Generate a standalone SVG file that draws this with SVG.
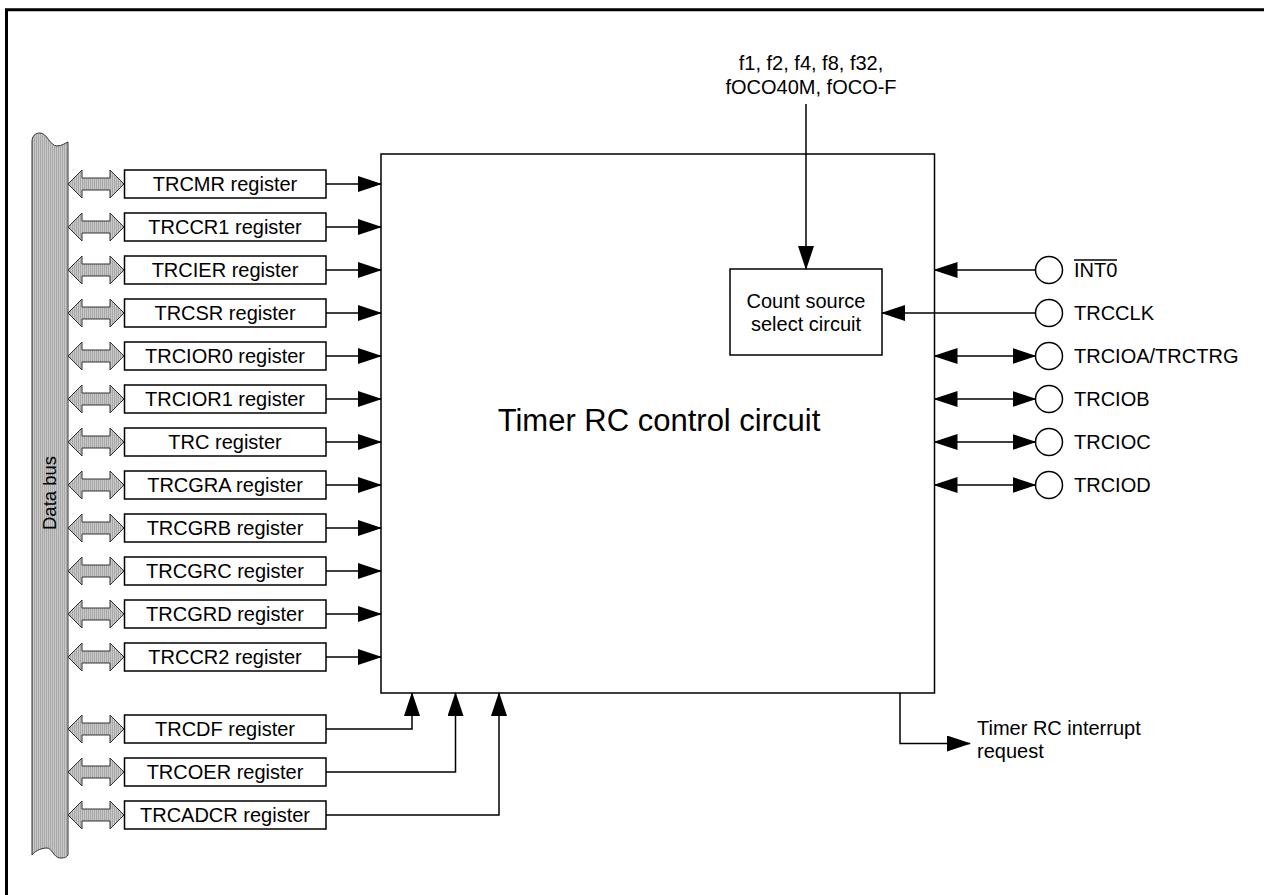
<svg xmlns="http://www.w3.org/2000/svg" width="1264" height="895" viewBox="0 0 1264 895">
<style>
text{font-family:"Liberation Sans",Arial,sans-serif;font-size:20px;fill:#000}
.reg{fill:#fff;stroke:#000;stroke-width:1.5}
.bus{fill:url(#hatch);stroke:#333;stroke-width:1}
.ln{fill:none;stroke:#000;stroke-width:1.5}
.arr{marker-end:url(#ah)}
.dbl{marker-start:url(#ah);marker-end:url(#ah)}
.c{text-anchor:middle}
</style>
<defs>
<pattern id="hatch" width="2" height="4" patternUnits="userSpaceOnUse"><rect width="2" height="4" fill="#c8c8c8"/><rect width="1" height="4" fill="#a8a8a8"/></pattern>
<marker id="ah" markerUnits="userSpaceOnUse" markerWidth="24" markerHeight="16" refX="23" refY="8" orient="auto-start-reverse"><path d="M0,0 L24,8 L0,16 Z" fill="#000"/></marker>
<path id="da" d="M68,0 L82,-14 L82,-6 L110,-6 L110,-14 L124,0 L110,14 L110,6 L82,6 L82,14 Z"/>
</defs>
<rect width="1264" height="895" fill="#fff"/>
<path d="M6.5,895 L6.5,9.8 L1264,9.8" fill="none" stroke="#000" stroke-width="3"/>

<g id="databus">
<path class="bus" d="M32,142 C32,136 35,133 40,133 C47,133 50,146 57,146 C62,146 65,143 68,142 L68,855 C66,858 63,858 60,858 C54,858 52,848 47,848 C40,848 34,852 32,855 Z"/>
<text transform="translate(56,493) rotate(-90)" class="c" style="font-size:18.5px">Data bus</text>
</g>

<g id="busarrows">
<use href="#da" class="bus" y="184"/>
<use href="#da" class="bus" y="227"/>
<use href="#da" class="bus" y="270"/>
<use href="#da" class="bus" y="313"/>
<use href="#da" class="bus" y="356"/>
<use href="#da" class="bus" y="399"/>
<use href="#da" class="bus" y="442"/>
<use href="#da" class="bus" y="485"/>
<use href="#da" class="bus" y="528"/>
<use href="#da" class="bus" y="571"/>
<use href="#da" class="bus" y="614"/>
<use href="#da" class="bus" y="657"/>
<use href="#da" class="bus" y="729"/>
<use href="#da" class="bus" y="772"/>
<use href="#da" class="bus" y="815"/>
</g>

<g id="reg-trcmr"><rect class="reg" x="124.5" y="170" width="201.5" height="28"/><text class="c" x="225" y="191">TRCMR register</text></g>
<g id="reg-trccr1"><rect class="reg" x="124.5" y="213" width="201.5" height="28"/><text class="c" x="225" y="234">TRCCR1 register</text></g>
<g id="reg-trcier"><rect class="reg" x="124.5" y="256" width="201.5" height="28"/><text class="c" x="225" y="277">TRCIER register</text></g>
<g id="reg-trcsr"><rect class="reg" x="124.5" y="299" width="201.5" height="28"/><text class="c" x="225" y="320">TRCSR register</text></g>
<g id="reg-trcior0"><rect class="reg" x="124.5" y="342" width="201.5" height="28"/><text class="c" x="225" y="363">TRCIOR0 register</text></g>
<g id="reg-trcior1"><rect class="reg" x="124.5" y="385" width="201.5" height="28"/><text class="c" x="225" y="406">TRCIOR1 register</text></g>
<g id="reg-trc"><rect class="reg" x="124.5" y="428" width="201.5" height="28"/><text class="c" x="225" y="449">TRC register</text></g>
<g id="reg-trcgra"><rect class="reg" x="124.5" y="471" width="201.5" height="28"/><text class="c" x="225" y="492">TRCGRA register</text></g>
<g id="reg-trcgrb"><rect class="reg" x="124.5" y="514" width="201.5" height="28"/><text class="c" x="225" y="535">TRCGRB register</text></g>
<g id="reg-trcgrc"><rect class="reg" x="124.5" y="557" width="201.5" height="28"/><text class="c" x="225" y="578">TRCGRC register</text></g>
<g id="reg-trcgrd"><rect class="reg" x="124.5" y="600" width="201.5" height="28"/><text class="c" x="225" y="621">TRCGRD register</text></g>
<g id="reg-trccr2"><rect class="reg" x="124.5" y="643" width="201.5" height="28"/><text class="c" x="225" y="664">TRCCR2 register</text></g>
<g id="reg-trcdf"><rect class="reg" x="124.5" y="715" width="201.5" height="28"/><text class="c" x="225" y="736">TRCDF register</text></g>
<g id="reg-trcoer"><rect class="reg" x="124.5" y="758" width="201.5" height="28"/><text class="c" x="225" y="779">TRCOER register</text></g>
<g id="reg-trcadcr"><rect class="reg" x="124.5" y="801" width="201.5" height="28"/><text class="c" x="225" y="822">TRCADCR register</text></g>

<g id="main"><rect class="reg" x="381" y="154" width="553.5" height="539"/><text class="c" x="659" y="431" style="font-size:31px">Timer RC control circuit</text></g>
<g id="countsrc"><rect class="reg" x="730" y="269" width="152" height="86"/><text class="c" x="806" y="308">Count source</text><text class="c" x="806" y="331">select circuit</text></g>

<g id="clocks"><text class="c" x="811" y="70">f1, f2, f4, f8, f32,</text><text class="c" x="811" y="94">fOCO40M, fOCO-F</text></g>

<g id="pin-int0"><circle class="reg" cx="1049" cy="270" r="13.5"/><text x="1074" y="277">INT0</text><path class="ln" d="M1074,260 H1117" stroke-width="1.3"/></g>
<g id="pin-trcclk"><circle class="reg" cx="1049" cy="313" r="13.5"/><text x="1074" y="320">TRCCLK</text></g>
<g id="pin-trcioa"><circle class="reg" cx="1049" cy="356" r="13.5"/><text x="1074" y="363">TRCIOA/TRCTRG</text></g>
<g id="pin-trciob"><circle class="reg" cx="1049" cy="399" r="13.5"/><text x="1074" y="406">TRCIOB</text></g>
<g id="pin-trcioc"><circle class="reg" cx="1049" cy="442" r="13.5"/><text x="1074" y="449">TRCIOC</text></g>
<g id="pin-trciod"><circle class="reg" cx="1049" cy="485" r="13.5"/><text x="1074" y="492">TRCIOD</text></g>

<g id="irq"><text x="977" y="735">Timer RC interrupt</text><text x="977" y="758">request</text></g>

<g id="connectors">
<path class="ln arr" d="M326,184 H381"/>
<path class="ln arr" d="M326,227 H381"/>
<path class="ln arr" d="M326,270 H381"/>
<path class="ln arr" d="M326,313 H381"/>
<path class="ln arr" d="M326,356 H381"/>
<path class="ln arr" d="M326,399 H381"/>
<path class="ln arr" d="M326,442 H381"/>
<path class="ln arr" d="M326,485 H381"/>
<path class="ln arr" d="M326,528 H381"/>
<path class="ln arr" d="M326,571 H381"/>
<path class="ln arr" d="M326,614 H381"/>
<path class="ln arr" d="M326,657 H381"/>
<path class="ln arr" d="M326,729 H412 V693"/>
<path class="ln arr" d="M326,772 H455.5 V693"/>
<path class="ln arr" d="M326,815 H499 V693"/>
<path class="ln arr" d="M806,104 V269"/>
<path class="ln arr" d="M1035.5,270 H934.5"/>
<path class="ln arr" d="M1035.5,313 H882"/>
<path class="ln dbl" d="M934.5,356 H1035.5"/>
<path class="ln dbl" d="M934.5,399 H1035.5"/>
<path class="ln dbl" d="M934.5,442 H1035.5"/>
<path class="ln dbl" d="M934.5,485 H1035.5"/>
<path class="ln arr" d="M900,693 V743.5 H970"/>
</g>
</svg>
